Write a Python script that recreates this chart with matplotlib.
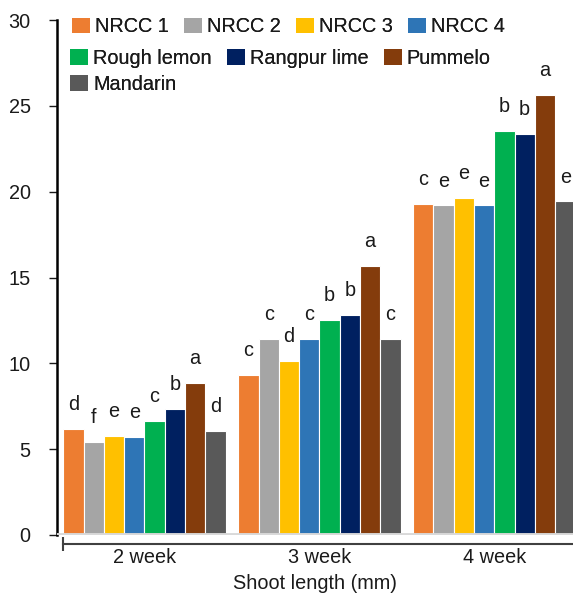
import matplotlib
matplotlib.use("Agg")
import matplotlib.pyplot as plt
from matplotlib.patches import Patch
import numpy as np

plt.rcParams['font.family'] = ['Liberation Sans', 'DejaVu Sans']

weeks = ["2 week", "3 week", "4 week"]
cultivars = ["NRCC 1", "NRCC 2", "NRCC 3", "NRCC 4",
             "Rough lemon", "Rangpur lime", "Pummelo", "Mandarin"]
colors = ["#ED7D31", "#A5A5A5", "#FFC000", "#2E75B6",
          "#00B050", "#002060", "#843C0C", "#595959"]

nrcc1 = [6.16, 9.30, 19.28]
nrcc2 = [5.40, 11.43, 19.20]
nrcc3 = [5.77, 10.15, 19.61]
nrcc4 = [5.73, 11.40, 19.20]
rough_lemon = [6.66, 12.52, 23.53]
rangpur_lime = [7.36, 12.80, 23.34]
pummelo = [8.86, 15.69, 25.63]
mandarin = [6.08, 11.42, 19.43]
values = [nrcc1, nrcc2, nrcc3, nrcc4, rough_lemon, rangpur_lime, pummelo, mandarin]

letters_2w = ['d', 'f', 'e', 'e', 'c', 'b', 'a', 'd']
letters_3w = ['c', 'c', 'd', 'c', 'b', 'b', 'a', 'c']
letters_4w = ['c', 'e', 'e', 'e', 'b', 'b', 'a', 'e']
letters = [letters_2w, letters_3w, letters_4w]

yticks = [0, 5, 10, 15, 20, 25, 30]
xlabel = "Shoot length (mm)"

FS = 14.3
W, H = 573, 597
fig = plt.figure(figsize=(W / 100, H / 100), dpi=100)
ax = fig.add_axes([57 / W, (H - 535) / H, 516 / W, 515 / H])

x = np.arange(len(weeks))
w = 0.116
n = len(cultivars)
for j, (name, vals, c) in enumerate(zip(cultivars, values, colors)):
    pos = x + (j - (n - 1) / 2) * w
    ax.bar(pos, vals, width=w, color=c, edgecolor='white', linewidth=0.8, zorder=2)
    for i, v in enumerate(vals):
        ax.text(pos[i], v + 1.1, letters[i][j], ha='center', va='baseline',
                fontsize=FS, color='#1a1a1a')

ax.axhline(0, color='#d9d9d9', lw=2.8, zorder=3)

ax.set_xlim(-0.5, 2.45)
ax.set_ylim(0, 30)
ax.set_yticks(yticks)
ax.tick_params(axis='y', length=6, width=1, pad=13, labelsize=FS, colors='#1a1a1a')
ax.spines['left'].set_linewidth(1.8)
ax.spines['left'].set_color('black')
ax.spines['top'].set_visible(False)
ax.spines['right'].set_visible(False)

ax.spines['bottom'].set_position(('outward', 6.5))
ax.spines['bottom'].set_bounds(-0.466, 2.45)
ax.spines['bottom'].set_color('#404040')
ax.spines['bottom'].set_linewidth(1.5)
ax.set_xticks(x)
ax.set_xticklabels(weeks)
ax.tick_params(axis='x', which='major', length=0, pad=3, labelsize=FS, colors='#1a1a1a')
ax.set_xticks([-0.466], minor=True)
ax.tick_params(axis='x', which='minor', length=10, width=1.5, direction='inout', color='#404040')
ax.set_xlabel(xlabel, fontsize=FS, color='#1a1a1a', labelpad=5)

handles = [Patch(facecolor=c, edgecolor='none') for c in colors]
rows = [(0, 4, 72, 27), (4, 7, 70, 58.5), (7, 8, 70, 84.5)]
for a, b, lx, ly in rows:
    leg = fig.legend(handles[a:b], cultivars[a:b], ncol=b - a, loc='center left',
                     bbox_to_anchor=(lx / W, 1 - ly / H), bbox_transform=fig.transFigure,
                     frameon=False, fontsize=FS, borderpad=0, borderaxespad=0,
                     handlelength=0.91, handleheight=0.83, handletextpad=0.25,
                     columnspacing=0.76, labelcolor='#1a1a1a')
    fig.add_artist(leg)

fig.savefig("out.png", dpi=100)
